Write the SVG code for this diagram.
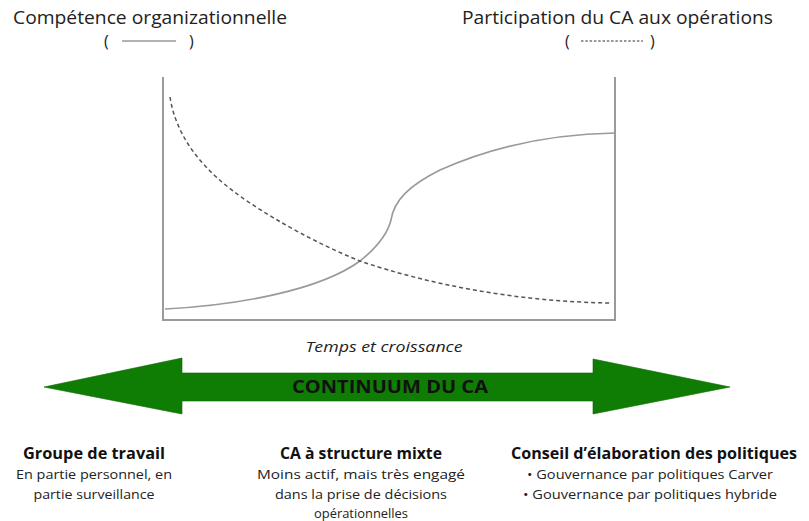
<svg xmlns="http://www.w3.org/2000/svg" width="809" height="521" viewBox="0 0 809 521">
  <style>
    .title { font-family: "Open Sans", "Liberation Sans", sans-serif; font-size: 18px; fill: #222; }
    .paren { font-family: "Open Sans", "Liberation Sans", sans-serif; font-size: 16px; fill: #222; }
    .axis { fill: none; stroke: #9a9a9a; stroke-width: 2; }
    .solid { fill: none; stroke: #999; stroke-width: 1.6; }
    .dashed { fill: none; stroke: #555; stroke-width: 1.5; stroke-dasharray: 4 3; }
    .xlabel { font-family: "Open Sans", "Liberation Sans", sans-serif; font-size: 14.5px; font-style: italic; fill: #222; text-anchor: middle; }
    .band { font-family: "Open Sans", "Liberation Sans", sans-serif; font-size: 18.5px; font-weight: bold; fill: #111; text-anchor: middle; }
    .head { font-family: "Open Sans", "Liberation Sans", sans-serif; font-size: 16px; font-weight: bold; fill: #111; text-anchor: middle; }
    .body { font-family: "Open Sans", "Liberation Sans", sans-serif; font-size: 13.5px; fill: #222; text-anchor: middle; }
  </style>

  <!-- legend -->
  <g id="legend-competence">
    <text class="title" x="13" y="24" textLength="274" lengthAdjust="spacingAndGlyphs">Compétence organizationnelle</text>
    <text class="paren" x="104" y="47">(</text>
    <line x1="122" y1="41" x2="176" y2="41" stroke="#999" stroke-width="1.6"/>
    <text class="paren" x="189" y="47">)</text>
  </g>
  <g id="legend-participation">
    <text class="title" x="462" y="24" textLength="311" lengthAdjust="spacingAndGlyphs">Participation du CA aux opérations</text>
    <text class="paren" x="565" y="47">(</text>
    <line x1="581" y1="41" x2="643" y2="41" stroke="#777" stroke-width="1.3" stroke-dasharray="2.5 1.8"/>
    <text class="paren" x="650" y="47">)</text>
  </g>

  <!-- chart -->
  <g id="chart">
    <path class="axis" d="M163,77 V320 H615 V77"/>
    <path class="solid" d="M165,309 C240,305 320,290 360,261 C380,245 388,232 391,220 C394,200 410,185 440,170 C500,143 560,134 615,133"/>
    <path class="dashed" d="M170,97 C176,135 200,170 250,203 C280,223 320,245 360,261 C430,285 520,302 612,303"/>
    <text class="xlabel" x="384" y="352" textLength="157" lengthAdjust="spacingAndGlyphs">Temps et croissance</text>
  </g>

  <!-- continuum arrow -->
  <g id="continuum">
    <polygon points="44,387 182,358 182,373 593,373 593,359 730,387 593,414 593,401 182,401 182,414" fill="#0f7d04" stroke="#0b6603" stroke-width="0.6"/>
    <text class="band" x="390" y="393" textLength="196" lengthAdjust="spacingAndGlyphs">CONTINUUM DU CA</text>
  </g>

  <!-- stages -->
  <g id="stage-groupe">
    <text class="head" x="94" y="459" textLength="142" lengthAdjust="spacingAndGlyphs">Groupe de travail</text>
    <text class="body" x="94" y="479" textLength="156" lengthAdjust="spacingAndGlyphs">En partie personnel, en</text>
    <text class="body" x="94" y="499" textLength="121" lengthAdjust="spacingAndGlyphs">partie surveillance</text>
  </g>
  <g id="stage-mixte">
    <text class="head" x="361" y="459" textLength="162" lengthAdjust="spacingAndGlyphs">CA à structure mixte</text>
    <text class="body" x="361" y="479" textLength="208" lengthAdjust="spacingAndGlyphs">Moins actif, mais très engagé</text>
    <text class="body" x="361" y="499" textLength="172" lengthAdjust="spacingAndGlyphs">dans la prise de décisions</text>
    <text class="body" x="361" y="518" textLength="94" lengthAdjust="spacingAndGlyphs">opérationnelles</text>
  </g>
  <g id="stage-conseil">
    <text class="head" x="654" y="459" textLength="286" lengthAdjust="spacingAndGlyphs">Conseil d’élaboration des politiques</text>
    <text class="body" x="650" y="479" textLength="246" lengthAdjust="spacingAndGlyphs">• Gouvernance par politiques Carver</text>
    <text class="body" x="650" y="499" textLength="254" lengthAdjust="spacingAndGlyphs">• Gouvernance par politiques hybride</text>
  </g>
</svg>
